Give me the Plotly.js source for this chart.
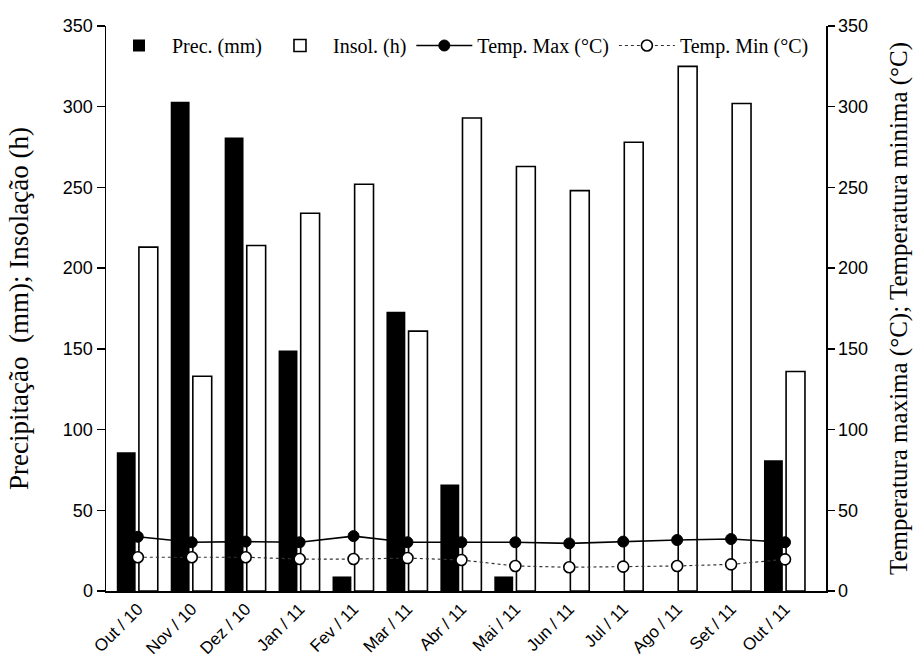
<!DOCTYPE html>
<html>
<head>
<meta charset="utf-8">
<script src="https://cdn.plot.ly/plotly-3.0.1.min.js"></script>
<style>html,body{margin:0;padding:0;background:#fff;}#chart{width:922px;height:659px;}</style>
</head>
<body>
<div id="chart"></div>
<script>
const months = ["Out / 10","Nov / 10","Dez / 10","Jan / 11","Fev / 11","Mar / 11","Abr / 11","Mai / 11","Jun / 11","Jul / 11","Ago / 11","Set / 11","Out / 11"];
const precipitacao = [86, 303, 281, 149, 9, 173, 66, 9, 0, 0, 0, 0, 81];
const insolacao = [213, 133, 214, 234, 252, 161, 293, 263, 248, 278, 325, 302, 136];
const tempMax = [33.6, 30.2, 30.6, 30.2, 34, 30.2, 30.2, 30.2, 29.5, 30.6, 31.6, 32.2, 30.2];
const tempMin = [20.9, 20.9, 20.9, 19.8, 19.8, 20.4, 19.2, 15.5, 14.7, 15.1, 15.5, 16.5, 19.6];
const yTicks = [0, 50, 100, 150, 200, 250, 300, 350];

const traces = [
  {type:'bar', name:'Prec. (mm)', x:months, y:precipitacao, width:0.35, offset:-0.39,
   marker:{color:'#000', line:{color:'#000', width:0}}},
  {type:'bar', name:'Insol. (h)', x:months, y:insolacao, width:0.35, offset:0.02,
   marker:{color:'#fff', line:{color:'#000', width:1.6}}},
  {type:'scatter', mode:'lines+markers', name:'Temp. Max (°C)', x:months, y:tempMax, yaxis:'y2',
   line:{color:'#000', width:1.6}, marker:{color:'#000', size:11, line:{color:'#000', width:1}}},
  {type:'scatter', mode:'lines+markers', name:'Temp. Min (°C)', x:months, y:tempMin, yaxis:'y2',
   line:{color:'#333', width:1.2, dash:'dot'}, marker:{color:'#fff', size:11, line:{color:'#000', width:1.6}}}
];

const layout = {
  width:922, height:659,
  margin:{l:106, r:96, t:26, b:68, autoexpand:false},
  paper_bgcolor:'#fff', plot_bgcolor:'#fff',
  barmode:'overlay',
  showlegend:true,
  legend:{orientation:'h', x:0.0, xanchor:'left', y:1.0, yanchor:'top',
    font:{family:'Liberation Serif, Times New Roman, serif', size:20, color:'#000'},
    bgcolor:'rgba(0,0,0,0)', itemwidth:56, traceorder:'normal'},
  xaxis:{type:'category', range:[-0.59, 12.76], showgrid:false, zeroline:false, automargin:false,
    showline:true, linecolor:'#000', linewidth:1.5, ticks:'', tickangle:-45,
    tickfont:{family:'Liberation Sans, Arial, sans-serif', size:17, color:'#000'}},
  yaxis:{range:[0,350], tickvals:yTicks, showgrid:false, zeroline:false, automargin:false,
    showline:true, linecolor:'#000', linewidth:1.5, ticks:'outside', ticklen:8, tickwidth:1.5, tickcolor:'#000',
    tickfont:{family:'Liberation Sans, Arial, sans-serif', size:18, color:'#000'},
    title:{text:'Precipitação  (mm); Insolação (h)', standoff:26,
      font:{family:'Liberation Serif, Times New Roman, serif', size:27, color:'#000'}}},
  yaxis2:{range:[0,350], tickvals:yTicks, overlaying:'y', side:'right', showgrid:false, zeroline:false, automargin:false,
    showline:true, linecolor:'#000', linewidth:1.5, ticks:'outside', ticklen:7, tickwidth:1.5, tickcolor:'#000',
    tickfont:{family:'Liberation Sans, Arial, sans-serif', size:18, color:'#000'},
    title:{text:'Temperatura maxima (°C); Temperatura minima (°C)', standoff:22,
      font:{family:'Liberation Serif, Times New Roman, serif', size:25, color:'#000'}}}
};

Plotly.newPlot('chart', traces, layout, {displayModeBar:false, staticPlot:true});
</script>
</body>
</html>
